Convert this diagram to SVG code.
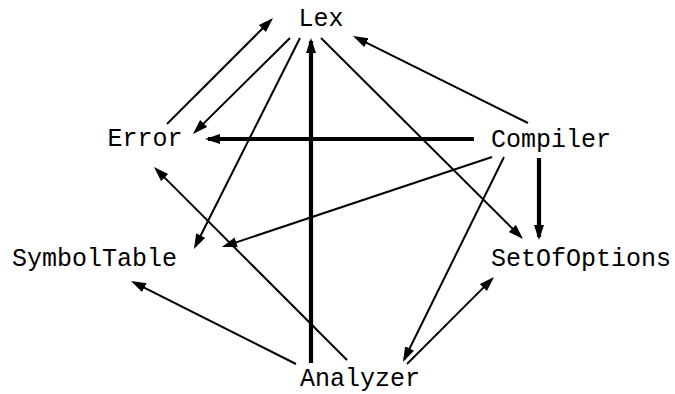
<svg xmlns="http://www.w3.org/2000/svg" width="675" height="394" viewBox="0 0 675 394">
<style>
text{font-family:"Liberation Mono","DejaVu Sans Mono",monospace;font-size:25px;fill:#000}
.t{stroke:#000;stroke-width:2;fill:none;marker-end:url(#ah)}
.k{stroke:#000;stroke-width:4.2;fill:none;marker-end:url(#ah)}
</style>
<defs>
<marker id="ah" markerUnits="userSpaceOnUse" markerWidth="16" markerHeight="12" refX="12" refY="5" orient="auto">
<path d="M0,0 L15,5 L0,10 z" fill="#000"/>
</marker>
</defs>
<rect width="675" height="394" fill="#fff"/>
<g id="connectors">
<line class="t" x1="167" y1="124" x2="270.9" y2="20.1"/>
<line class="t" x1="290" y1="38" x2="195.1" y2="131.9"/>
<line class="t" x1="300" y1="38" x2="195.3" y2="246.3"/>
<line class="k" x1="311" y1="363" x2="311" y2="41"/>
<line class="t" x1="321" y1="38" x2="520.9" y2="236.9"/>
<line class="t" x1="528" y1="123" x2="355.7" y2="37.3"/>
<line class="k" x1="474" y1="139" x2="208" y2="139"/>
<line class="k" x1="539" y1="158" x2="539" y2="237"/>
<line class="t" x1="492" y1="157" x2="224.8" y2="246.1"/>
<line class="t" x1="504" y1="157" x2="404.3" y2="359.3"/>
<line class="t" x1="407" y1="364" x2="491.9" y2="279.1"/>
<line class="t" x1="347" y1="360" x2="156.1" y2="169.1"/>
<line class="t" x1="296" y1="364" x2="133.7" y2="282.3"/>
</g>
<g id="Lex"><text x="298.5" y="26">Lex</text></g>
<g id="Error"><text x="107.5" y="146">Error</text></g>
<g id="Compiler"><text x="491" y="147">Compiler</text></g>
<g id="SymbolTable"><text x="12" y="266">SymbolTable</text></g>
<g id="SetOfOptions"><text x="491" y="266">SetOfOptions</text></g>
<g id="Analyzer"><text x="300" y="386">Analyzer</text></g>
</svg>
